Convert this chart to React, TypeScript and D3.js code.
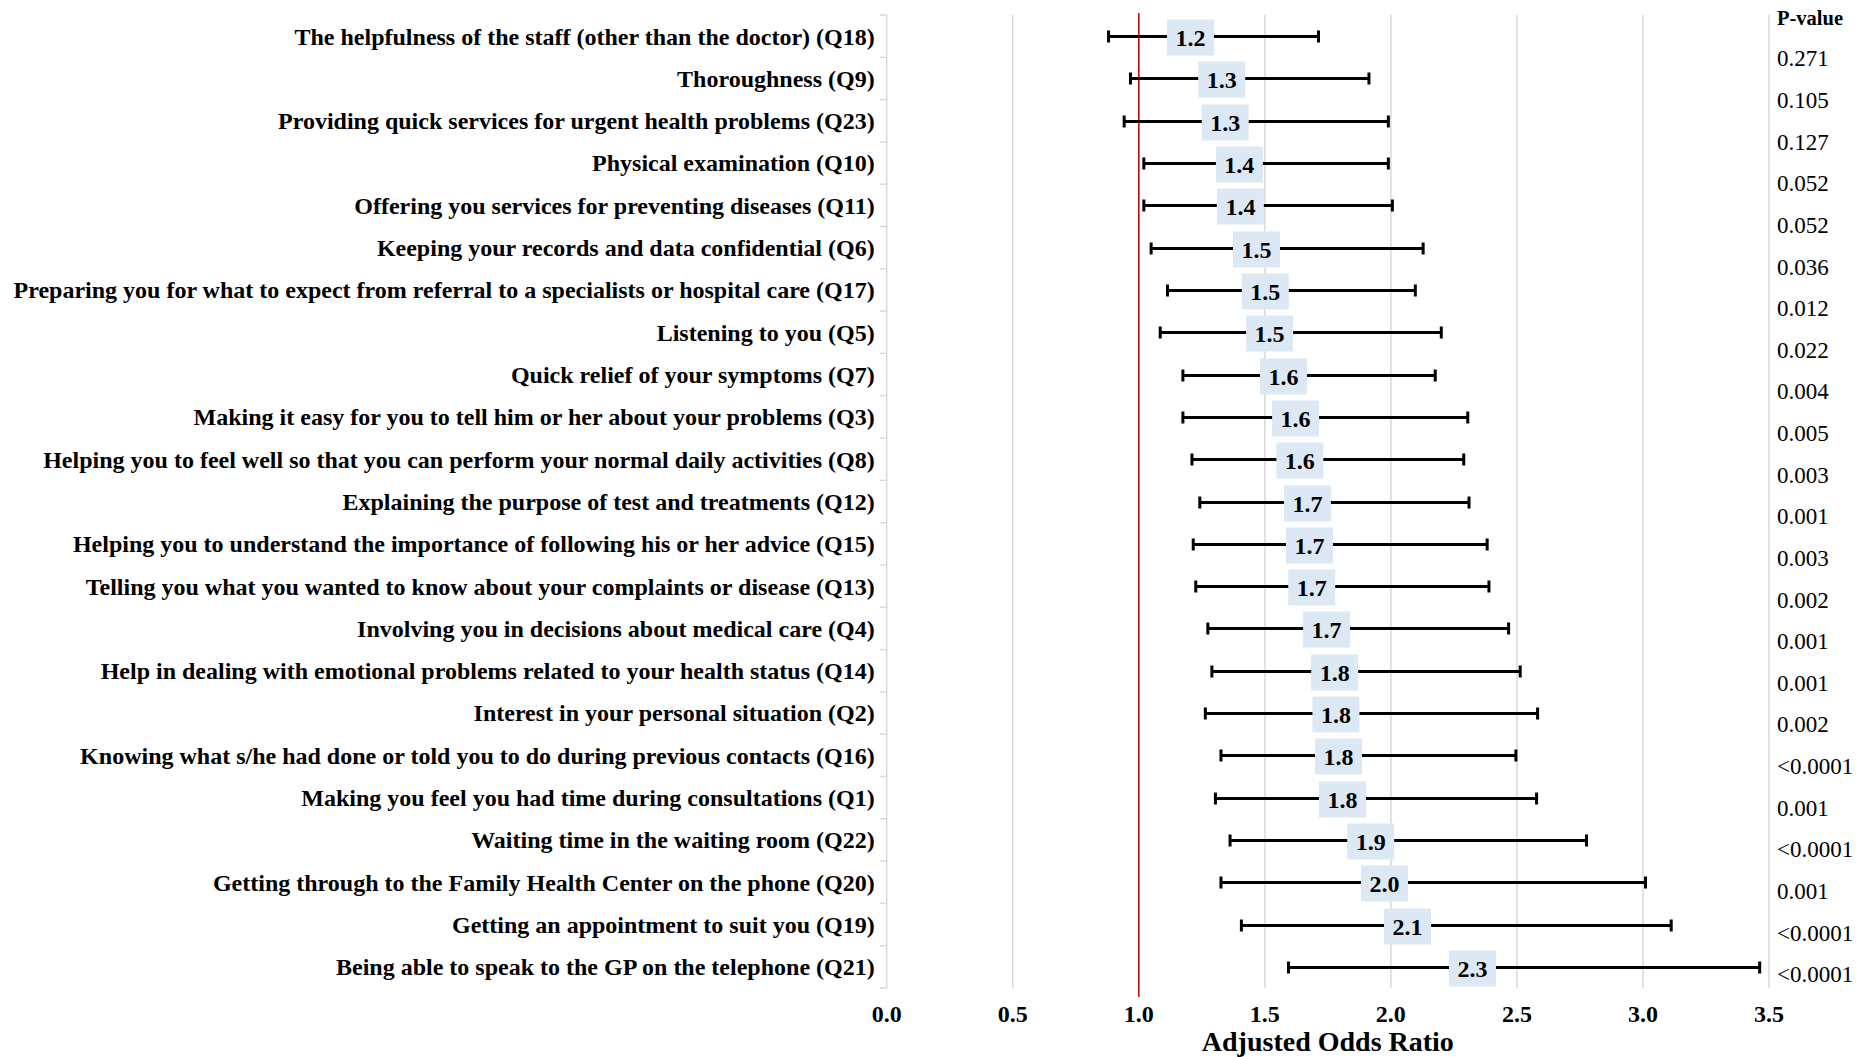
import { useEffect, useRef } from "react";
import * as d3 from "d3";

const categories = [
  "The helpfulness of the staff (other than the doctor) (Q18)",
  "Thoroughness (Q9)",
  "Providing quick services for urgent health problems (Q23)",
  "Physical examination (Q10)",
  "Offering you services for preventing diseases (Q11)",
  "Keeping your records and data confidential (Q6)",
  "Preparing you for what to expect from referral to a specialists or hospital care (Q17)",
  "Listening to you (Q5)",
  "Quick relief of your symptoms (Q7)",
  "Making it easy for you to tell him or her about your problems (Q3)",
  "Helping you to feel well so that you can perform your normal daily activities (Q8)",
  "Explaining the purpose of test and treatments (Q12)",
  "Helping you to understand the importance of following his or her advice (Q15)",
  "Telling you what you wanted to know about your complaints or disease (Q13)",
  "Involving you in decisions about medical care (Q4)",
  "Help in dealing with emotional problems related to your health status (Q14)",
  "Interest in your personal situation (Q2)",
  "Knowing what s/he had done or told you to do during previous contacts (Q16)",
  "Making you feel you had time during consultations (Q1)",
  "Waiting time in the waiting room (Q22)",
  "Getting through to the Family Health Center on the phone (Q20)",
  "Getting an appointment to suit you (Q19)",
  "Being able to speak to the GP on the telephone (Q21)",
];

const oddsRatio = [
  1.205, 1.329, 1.343, 1.399, 1.403, 1.467, 1.502, 1.519, 1.574, 1.622, 1.639, 1.669,
  1.677, 1.686, 1.745, 1.777, 1.782, 1.792, 1.808, 1.92, 1.975, 2.066, 2.324,
];
const lower = [
  0.88, 0.967, 0.942, 1.02, 1.02, 1.049, 1.114, 1.085, 1.175, 1.175, 1.211, 1.242,
  1.216, 1.226, 1.274, 1.29, 1.264, 1.326, 1.304, 1.362, 1.326, 1.407, 1.594,
];
const upper = [
  1.713, 1.913, 1.99, 1.99, 2.006, 2.128, 2.097, 2.2, 2.176, 2.305, 2.289, 2.31,
  2.382, 2.389, 2.467, 2.513, 2.582, 2.496, 2.578, 2.776, 3.01, 3.112, 3.463,
];
const pValues = [
  "0.271", "0.105", "0.127", "0.052", "0.052", "0.036", "0.012", "0.022", "0.004",
  "0.005", "0.003", "0.001", "0.003", "0.002", "0.001", "0.001", "0.002", "<0.0001",
  "0.001", "<0.0001", "0.001", "<0.0001", "<0.0001",
];
const xTicks = [0, 0.5, 1, 1.5, 2, 2.5, 3, 3.5];

export default function App() {
  const svgRef = useRef(null);

  useEffect(() => {
    const width = 1875;
    const height = 1057;
    const plotLeft = 886.7;
    const plotRight = 1769;
    const plotTop = 15;
    const plotBottom = 988;
    const font = "'Liberation Serif', 'Times New Roman', serif";

    const x = d3.scaleLinear().domain([0, 3.5]).range([plotLeft, plotRight]);
    const y = d3.scaleBand().domain(categories).range([plotTop, plotBottom]).padding(0);
    const pY = d3.scaleBand().domain(d3.range(pValues.length)).range([37.5, 995]).padding(0);

    const svg = d3.select(svgRef.current)
      .attr("width", width)
      .attr("height", height)
      .attr("viewBox", [0, 0, width, height])
      .style("font-family", font);
    svg.selectAll("*").remove();

    svg.append("rect").attr("width", width).attr("height", height).attr("fill", "white");

    // vertical gridlines
    svg.append("g")
      .selectAll("line")
      .data(xTicks)
      .join("line")
      .attr("x1", d => x(d))
      .attr("x2", d => x(d))
      .attr("y1", plotTop)
      .attr("y2", plotBottom)
      .attr("stroke", "#d9d9d9")
      .attr("stroke-width", 1.5);

    // category ticks on the left axis
    const bounds = categories.map(c => y(c)).concat([plotBottom]);
    svg.append("g")
      .selectAll("line")
      .data(bounds)
      .join("line")
      .attr("x1", plotLeft - 7)
      .attr("x2", plotLeft)
      .attr("y1", d => d)
      .attr("y2", d => d)
      .attr("stroke", "#d9d9d9")
      .attr("stroke-width", 1.5);

    // reference line at OR = 1
    svg.append("line")
      .attr("x1", x(1))
      .attr("x2", x(1))
      .attr("y1", 13)
      .attr("y2", 997)
      .attr("stroke", "#c00000")
      .attr("stroke-width", 1.5);

    // category labels
    svg.append("g")
      .selectAll("text")
      .data(categories)
      .join("text")
      .attr("x", plotLeft - 12)
      .attr("y", d => y(d) + y.bandwidth() / 2)
      .attr("dy", "0.35em")
      .attr("text-anchor", "end")
      .attr("font-size", 24)
      .attr("font-weight", "bold")
      .text(d => d);

    const rows = categories.map((c, i) => ({ c, or: oddsRatio[i], lo: lower[i], hi: upper[i] }));
    const cy = d => Math.round(y(d.c) + y.bandwidth() / 2) + 0.5;

    const bars = svg.append("g").selectAll("g").data(rows).join("g");
    bars.append("line")
      .attr("x1", d => x(d.lo))
      .attr("x2", d => x(d.hi))
      .attr("y1", cy)
      .attr("y2", cy)
      .attr("stroke", "black")
      .attr("stroke-width", 3);
    bars.append("line")
      .attr("x1", d => x(d.lo))
      .attr("x2", d => x(d.lo))
      .attr("y1", d => cy(d) - 6)
      .attr("y2", d => cy(d) + 6)
      .attr("stroke", "black")
      .attr("stroke-width", 3);
    bars.append("line")
      .attr("x1", d => x(d.hi))
      .attr("x2", d => x(d.hi))
      .attr("y1", d => cy(d) - 6)
      .attr("y2", d => cy(d) + 6)
      .attr("stroke", "black")
      .attr("stroke-width", 3);
    bars.append("rect")
      .attr("x", d => x(d.or) - 23.5)
      .attr("y", d => cy(d) - 17)
      .attr("width", 47)
      .attr("height", 36)
      .attr("fill", "#dde8f5");
    bars.append("text")
      .attr("x", d => x(d.or))
      .attr("y", d => cy(d) + 1)
      .attr("dy", "0.35em")
      .attr("text-anchor", "middle")
      .attr("font-size", 24)
      .attr("font-weight", "bold")
      .text(d => d3.format(".1f")(d.or));

    // x axis tick labels
    svg.append("g")
      .selectAll("text")
      .data(xTicks)
      .join("text")
      .attr("x", d => x(d))
      .attr("y", 1022)
      .attr("text-anchor", "middle")
      .attr("font-size", 24)
      .attr("font-weight", "bold")
      .text(d => d3.format(".1f")(d));

    svg.append("text")
      .attr("x", (x(0) + x(3.5)) / 2)
      .attr("y", 1051)
      .attr("text-anchor", "middle")
      .attr("font-size", 28)
      .attr("font-weight", "bold")
      .text("Adjusted Odds Ratio");

    // p-value column
    svg.append("text")
      .attr("x", 1777)
      .attr("y", 18)
      .attr("dy", "0.35em")
      .attr("font-size", 20.5)
      .attr("font-weight", "bold")
      .text("P-value");
    svg.append("g")
      .selectAll("text")
      .data(pValues)
      .join("text")
      .attr("x", 1777)
      .attr("y", (d, i) => pY(i) + pY.bandwidth() / 2)
      .attr("dy", "0.35em")
      .attr("font-size", 23)
      .text(d => d);
  }, []);

  return (
    <div style={{ position: "absolute", left: 0, top: 0 }}>
      <svg ref={svgRef} style={{ display: "block" }}></svg>
    </div>
  );
}
